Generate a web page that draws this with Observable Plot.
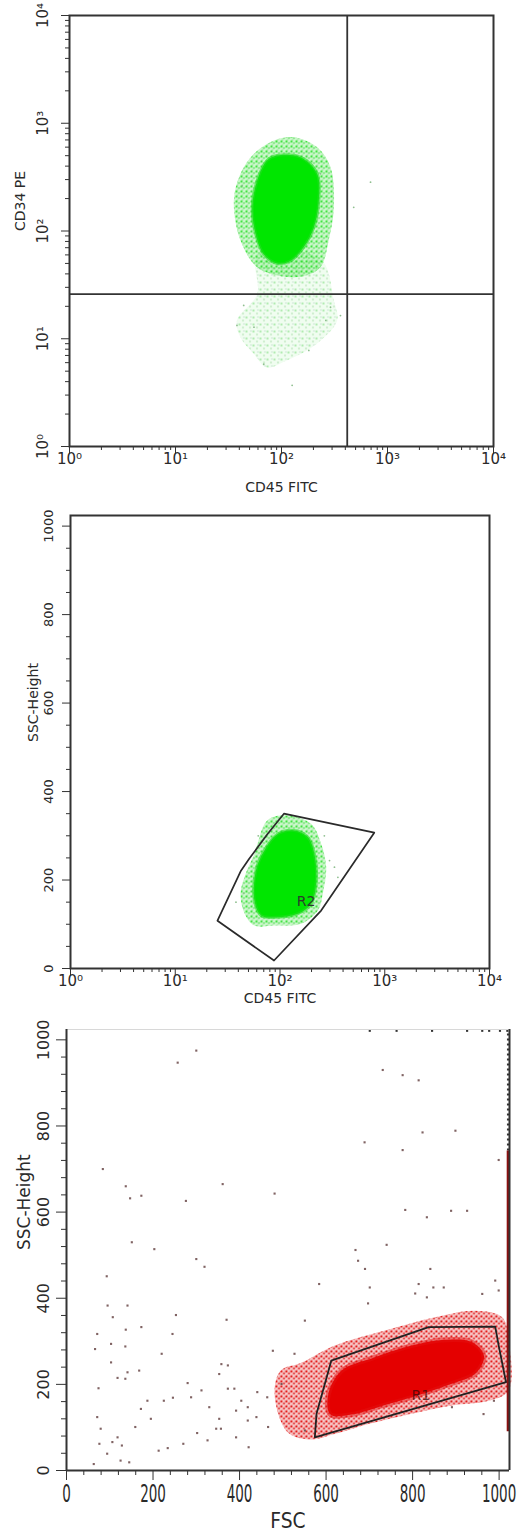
<!DOCTYPE html>
<html><head><meta charset="utf-8">
<script src="https://cdn.jsdelivr.net/npm/d3@7"></script>
<script src="https://cdn.jsdelivr.net/npm/@observablehq/plot@0.6"></script>
<style>body{margin:0;background:#fff} svg{display:block}</style>
</head><body><div id="c"></div>
<script>
// ---------- shared tick data ----------
const logMajor = [1, 10, 100, 1000, 10000];
const logLabels = ["10⁰", "10¹", "10²", "10³", "10⁴"];
const logMinor = [2,3,4,5,6,7,8,9,20,30,40,50,60,70,80,90,200,300,400,500,600,700,800,900,2000,3000,4000,5000,6000,7000,8000,9000];
const linMajor = [0, 200, 400, 600, 800, 1000];
const linLabels = ["0", "200", "400", "600", "800", "1000"];
const minor50 = [50,100,150,250,300,350,450,500,550,650,700,750,850,900,950];
const minor40 = [40,80,120,160,240,280,320,360,440,480,520,560,640,680,720,760,840,880,920,960];

// ---------- panel 1: CD45 FITC vs CD34 PE ----------
const p1Core = [[91,502],[151,484],[217,340],[225,192],[202,108],[162,71],[122,53],[91,50],[68,61],[57,94],[53,166],[59,294],[73,451]];
const p1Halo = [[85,692],[131,743],[217,600],[290,391],[312,166],[279,82],[233,46],[160,38],[100,38],[59,46],[41,82],[35.5,192],[41,340],[55,520]];
const p1Tail = [[59,60],[233,55],[312,22.6],[335,14.8],[233,9.6],[151,7.2],[113,6.3],[73,5.4],[55,7.2],[41,10.3],[38,14.8],[59,26]];
const p1Sparse = [[692,284],[480,166],[126,3.7],[38,13.3],[360,16.4],[290,19.6],[262,14.8],[55,12.8],[68,5.8],[181,7.8],[44,20.4],[233,340],[42.5,263]];
const p1QuadX = [417];
const p1QuadY = [26];

// ---------- panel 2: CD45 FITC vs SSC-Height ----------
const p2Core = [[95,304],[137,312],[184,297],[213,259],[221,191],[198,146],[148,124],[95,116],[66,120],[57,154],[59,222],[71,267]];
const p2Halo = [[76,335],[119,346],[198,327],[247,282],[276,229],[256,169],[230,131],[159,101],[88,97],[57,97],[46,124],[42,169],[47,214],[57,259]];
const p2Sparse = [[297,244],[331,229],[357,206],[62,300],[45,170],[38,150],[265,300]];
const gateR2 = [[109,350],[794,307],[247,131],[87.7,18],[25.3,108],[42.4,221],[50.8,248],[76,304]];
const labelR2 = [{x: 177, y: 152, text: "R2"}];

// ---------- panel 3: FSC vs SSC-Height ----------
const p3Core = [[605,176],[636,232],[710,262],[798,290],[868,303],[938,298],[965,266],[946,226],[880,198],[798,170],[729,150],[659,130],[610,130]];
const p3Halo = [[481,178],[495,232],[543,250],[620,290],[736,325],[852,356],[945,371],[1007,356],[1022,302],[1022,186],[976,162],[891,151],[798,132],[698,108],[620,85],[560,72],[510,90]];
const p3Sparse = [[300,975],[257,947],[84,700],[137,660],[173,638],[147,632],[276,626],[361,665],[481,643],[151,530],[203,514],[300,491],[319,473],[93,451],[95,383],[141,383],[253,361],[107,356],[370,350],[71,317],[103,294],[137,327],[136,288],[66,282],[245,317],[220,271],[173,333],[103,251],[141,228],[168,232],[118,215],[136,213],[74,191],[280,203],[312,186],[246,169],[225,162],[172,143],[288,170],[330,147],[353,224],[358,247],[373,244],[373,190],[388,190],[404,162],[419,147],[441,182],[392,139],[353,120],[346,97],[326,70],[302,87],[270,62],[234,52],[213,46],[195,120],[159,101],[187,162],[94,39],[63,15],[125,23],[145,19],[71,124],[79,97],[76,62],[106,66],[128,58],[118,77],[357,97],[419,116],[421,54],[392,77],[464,170],[477,278],[527,271],[497,201],[466,101],[439,124],[551,93],[551,348],[584,433],[668,512],[674,487],[690,468],[701,425],[697,388],[740,524],[731,930],[777,918],[814,906],[689,762],[777,744],[823,785],[899,789],[999,721],[783,605],[833,588],[889,603],[926,603],[841,468],[814,433],[848,425],[872,425],[806,411],[833,402],[991,441],[999,418],[961,410],[964,131],[988,162],[891,147]];
const p3TopX = [701,763,845,926,961,977,1002,1019];
const p3EdgeBar = [{y1: 90, y2: 742}];
const p3EdgeDots = [{y1: 742, y2: 1020}];
const gateR1 = [[574,77],[578,132],[612,255],[837,333],[991,334],[999,290],[1016,205]];
const labelR1 = [{x: 819, y: 174, text: "R1"}];

// ---------- styling ----------
const FONT = "DejaVu Sans, Verdana, sans-serif";
const INK = "#2a2a2a";
const GREEN = "#00e600";
const RED = "#e40000";
const px = d => d[0], py = d => d[1];
const logLab = d => logLabels[logMajor.indexOf(d)];
const linLab = d => linLabels[linMajor.indexOf(d)];

function addDefs(svg, html) {
  const defs = document.createElementNS("http://www.w3.org/2000/svg", "defs");
  defs.innerHTML = html;
  svg.insertBefore(defs, svg.firstChild);
}
function stretch(svg, cls, sx, sy) {
  svg.querySelectorAll("." + cls + " text").forEach(t => {
    let tr = t.getAttribute("transform");
    if (!tr) {
      const x = t.getAttribute("x") || 0, y = t.getAttribute("y") || 0;
      t.removeAttribute("x"); t.removeAttribute("y");
      tr = `translate(${x},${y})`;
    }
    t.setAttribute("transform", tr + ` scale(${sx},${sy})`);
  });
}

const container = document.getElementById("c");

// ===== Panel 1 =====
const plot1 = Plot.plot({
  width: 519, height: 500,
  marginTop: 15, marginRight: 26, marginBottom: 54, marginLeft: 69,
  style: {fontFamily: FONT, color: INK, background: "#fff"},
  x: {type: "log", domain: [1, 1e4]},
  y: {type: "log", domain: [1, 1e4]},
  marks: [
    Plot.line(p1Tail, {x: px, y: py, curve: "catmull-rom-closed", fill: "url(#gTail)", stroke: "none"}),
    Plot.line(p1Halo, {x: px, y: py, curve: "catmull-rom-closed", fill: "url(#gHalo)", stroke: "none"}),
    Plot.line(p1Core, {x: px, y: py, curve: "catmull-rom-closed", fill: GREEN, stroke: "#22dd22", strokeWidth: 3, strokeOpacity: 0.6}),
    Plot.dot(p1Sparse, {x: px, y: py, r: 0.9, fill: "#8fbf8f", stroke: "none"}),
    Plot.ruleX(p1QuadX, {stroke: "#333", strokeWidth: 1.8}),
    Plot.ruleY(p1QuadY, {stroke: "#333", strokeWidth: 1.8}),
    Plot.frame({stroke: "#333", strokeWidth: 2}),
    Plot.axisX({ticks: logMinor, tickSize: 4, tickFormat: () => "", label: null, stroke: "#333"}),
    Plot.axisX({ticks: logMajor, tickSize: 7, tickFormat: () => "", label: null, stroke: "#333"}),
    Plot.text(logMajor, {x: d => d, text: logLab, frameAnchor: "bottom", dy: 7, lineAnchor: "top", fontSize: 15, fill: INK}),
    Plot.axisY({ticks: logMinor, tickSize: 4, tickFormat: () => "", label: null, stroke: "#333"}),
    Plot.axisY({ticks: logMajor, tickSize: 8, tickFormat: () => "", label: null, stroke: "#333"}),
    Plot.text(logMajor, {y: d => d, text: logLab, frameAnchor: "left", dx: -26, rotate: -90, textAnchor: "middle", lineAnchor: "middle", fontSize: 15, fill: INK}),
    Plot.text(["CD45 FITC"], {text: d => d, frameAnchor: "bottom", dy: 41, lineAnchor: "middle", fontSize: 14, letterSpacing: 1.5, fill: INK}),
    Plot.text(["CD34 PE"], {text: d => d, frameAnchor: "left", dx: -49, rotate: -90, lineAnchor: "middle", fontSize: 14, fill: INK})
  ]
});
addDefs(plot1, `
<pattern id="gHalo" patternUnits="userSpaceOnUse" width="5" height="5">
  <rect width="5" height="5" fill="#00e000" opacity="0.2"/>
  <circle cx="1" cy="1" r="0.9" fill="#00d800"/>
  <circle cx="3.5" cy="2.5" r="0.8" fill="#2fcc2f"/>
  <circle cx="2" cy="4.2" r="0.7" fill="#8fd88f"/>
</pattern>
<pattern id="gTail" patternUnits="userSpaceOnUse" width="7" height="7">
  <rect width="7" height="7" fill="#00e000" opacity="0.06"/>
  <circle cx="1" cy="2" r="0.8" fill="#5fd35f"/>
  <circle cx="4.5" cy="5" r="0.7" fill="#8fd08f"/>
  <circle cx="5.5" cy="1.5" r="0.6" fill="#a8c8b8"/>
</pattern>`);
container.appendChild(plot1);

// ===== Panel 2 =====
const plot2 = Plot.plot({
  width: 519, height: 520,
  marginTop: 15, marginRight: 30, marginBottom: 52, marginLeft: 70,
  style: {fontFamily: FONT, color: INK, background: "#fff"},
  x: {type: "log", domain: [1, 1e4]},
  y: {domain: [0, 1024]},
  marks: [
    Plot.line(p2Halo, {x: px, y: py, curve: "catmull-rom-closed", fill: "url(#gHalo2)", stroke: "none"}),
    Plot.line(p2Core, {x: px, y: py, curve: "catmull-rom-closed", fill: GREEN, stroke: "#22dd22", strokeWidth: 3, strokeOpacity: 0.6}),
    Plot.dot(p2Sparse, {x: px, y: py, r: 0.9, fill: "#8fbf8f", stroke: "none"}),
    Plot.line(gateR2, {x: px, y: py, curve: "linear-closed", stroke: "#2a2a2a", strokeWidth: 1.7}),
    Plot.text(labelR2, {x: "x", y: "y", text: "text", fontSize: 14, fill: "#2d3a2d"}),
    Plot.frame({stroke: "#333", strokeWidth: 2}),
    Plot.axisX({ticks: logMinor, tickSize: 4, tickFormat: () => "", label: null, stroke: "#333"}),
    Plot.axisX({ticks: logMajor, tickSize: 7, tickFormat: () => "", label: null, stroke: "#333"}),
    Plot.text(logMajor, {x: d => d, text: logLab, frameAnchor: "bottom", dy: 7, lineAnchor: "top", fontSize: 15, fill: INK}),
    Plot.axisY({ticks: minor50, tickSize: 4, tickFormat: () => "", label: null, stroke: "#333"}),
    Plot.axisY({ticks: linMajor, tickSize: 8, tickFormat: () => "", label: null, stroke: "#333"}),
    Plot.text(linMajor, {y: d => d, text: linLab, frameAnchor: "left", dx: -22, rotate: -90, textAnchor: "middle", lineAnchor: "middle", fontSize: 13, fill: INK}),
    Plot.text(["CD45 FITC"], {text: d => d, frameAnchor: "bottom", dy: 30, lineAnchor: "middle", fontSize: 14, letterSpacing: 1.2, fill: INK}),
    Plot.text(["SSC-Height"], {text: d => d, frameAnchor: "left", dx: -37, rotate: -90, lineAnchor: "middle", fontSize: 14, letterSpacing: 1, fill: INK})
  ]
});
addDefs(plot2, `
<pattern id="gHalo2" patternUnits="userSpaceOnUse" width="5" height="5">
  <rect width="5" height="5" fill="#00e000" opacity="0.2"/>
  <circle cx="1" cy="1" r="0.9" fill="#00d800"/>
  <circle cx="3.5" cy="2.5" r="0.8" fill="#2fcc2f"/>
  <circle cx="2" cy="4.2" r="0.7" fill="#a0d8a0"/>
</pattern>`);
container.appendChild(plot2);

// ===== Panel 3 =====
const plot3 = Plot.plot({
  width: 519, height: 513,
  marginTop: 9, marginRight: 10, marginBottom: 63, marginLeft: 66,
  style: {fontFamily: FONT, color: INK, background: "#fff"},
  x: {domain: [0, 1024]},
  y: {domain: [0, 1024]},
  marks: [
    Plot.line(p3Halo, {x: px, y: py, curve: "catmull-rom-closed", fill: "url(#rHalo)", stroke: "none"}),
    Plot.line(p3Core, {x: px, y: py, curve: "catmull-rom-closed", fill: RED, stroke: "#e41010", strokeWidth: 5, strokeOpacity: 0.5}),
    Plot.dot(p3Sparse, {x: px, y: py, r: 1.2, symbol: "square", fill: "#6a4848", stroke: "none", fillOpacity: 0.85}),
    Plot.dot(p3TopX, {x: d => d, y: () => 1021, r: 1.2, symbol: "square", fill: "#333"}),
    Plot.ruleX(p3EdgeDots, {x: () => 1021, y1: "y1", y2: "y2", stroke: "#333", strokeWidth: 2.5, strokeDasharray: "2 3"}),
    Plot.ruleX(p3EdgeBar, {x: () => 1021, y1: "y1", y2: "y2", stroke: "#8a1010", strokeWidth: 3}),
    Plot.line(gateR1, {x: px, y: py, curve: "linear-closed", stroke: "#222", strokeWidth: 1.8}),
    Plot.text(labelR1, {x: "x", y: "y", text: "text", fontSize: 14, fill: "#3a0808", fillOpacity: 0.75}),
    Plot.ruleY([1024], {stroke: "#d8d8d8", strokeWidth: 1}),
    Plot.ruleX([0], {stroke: "#333", strokeWidth: 2}),
    Plot.ruleX([1024], {stroke: "#333", strokeWidth: 2}),
    Plot.ruleY([0], {stroke: "#333", strokeWidth: 2}),
    Plot.axisX({ticks: minor40, tickSize: 5, tickFormat: () => "", label: null, stroke: "#333"}),
    Plot.axisX({ticks: linMajor, tickSize: 10, tickFormat: () => "", label: null, stroke: "#333"}),
    Plot.text(linMajor, {x: d => d, text: linLab, frameAnchor: "bottom", dy: 14, lineAnchor: "top", fontSize: 15, fill: INK, className: "p3xl"}),
    Plot.axisY({ticks: minor40, tickSize: 5, tickFormat: () => "", label: null, stroke: "#333"}),
    Plot.axisY({ticks: linMajor, tickSize: 10, tickFormat: () => "", label: null, stroke: "#333"}),
    Plot.text(linMajor, {y: d => d, text: linLab, frameAnchor: "left", dx: -23, rotate: -90, textAnchor: "middle", lineAnchor: "middle", fontSize: 16, fill: INK}),
    Plot.text(["FSC"], {text: d => d, frameAnchor: "bottom", dy: 42, lineAnchor: "top", fontSize: 17, fill: INK, className: "p3lab"}),
    Plot.text(["SSC-Height"], {text: d => d, frameAnchor: "left", dx: -42, rotate: -90, lineAnchor: "middle", fontSize: 17, letterSpacing: 1, fill: INK})
  ]
});
addDefs(plot3, `
<pattern id="rHalo" patternUnits="userSpaceOnUse" width="5" height="5">
  <rect width="5" height="5" fill="#f06060" opacity="0.25"/>
  <circle cx="1" cy="1" r="1.05" fill="#e00000"/>
  <circle cx="3.5" cy="3" r="1" fill="#d80000"/>
  <circle cx="4" cy="0.8" r="0.55" fill="#b03030"/>
  <circle cx="1.2" cy="3.9" r="0.5" fill="#e83030"/>
</pattern>`);
stretch(plot3, "p3xl", 0.9, 1.6);
stretch(plot3, "p3lab", 1.1, 1.25);
container.appendChild(plot3);
</script>
</body></html>
